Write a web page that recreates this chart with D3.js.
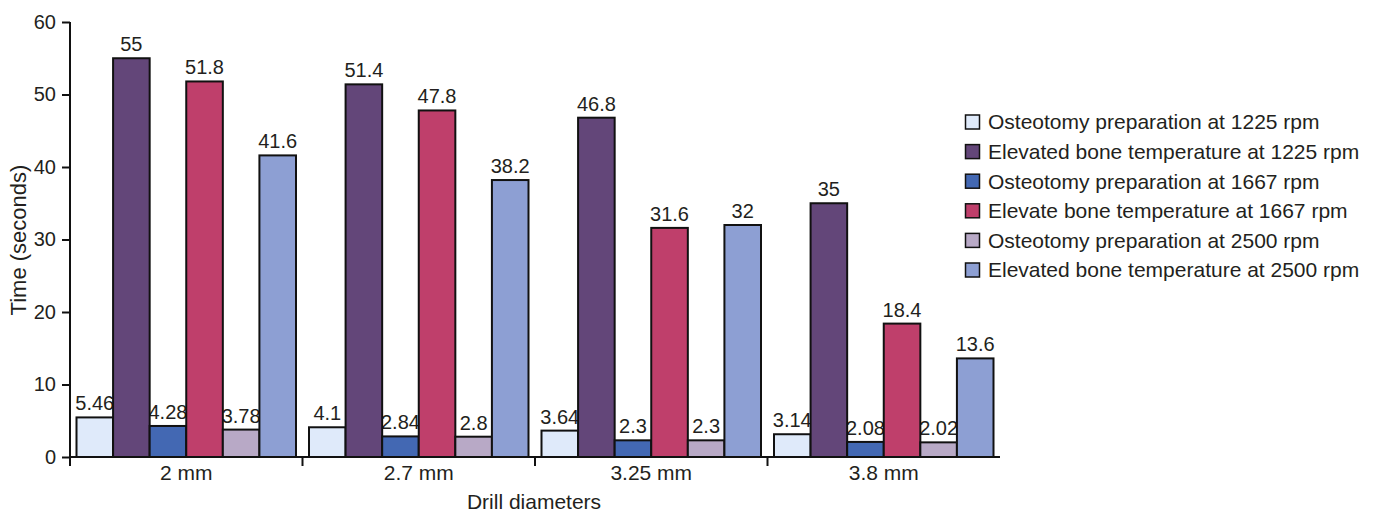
<!DOCTYPE html>
<html>
<head>
<meta charset="utf-8">
<script src="https://cdn.jsdelivr.net/npm/d3@7"></script>
<style>
  html, body { margin: 0; padding: 0; background: #fff; }
  svg text { font-family: "Liberation Sans", Arial, Helvetica, sans-serif; fill: #231f20; }
</style>
</head>
<body>
<svg id="chart" width="1378" height="513"></svg>
<script>
// Drill diameters (x categories)
const categories = ["2 mm", "2.7 mm", "3.25 mm", "3.8 mm"];

// Series names, in drawing order within each group
const seriesNames = [
  "Osteotomy preparation at 1225 rpm",
  "Elevated bone temperature at 1225 rpm",
  "Osteotomy preparation at 1667 rpm",
  "Elevate bone temperature at 1667 rpm",
  "Osteotomy preparation at 2500 rpm",
  "Elevated bone temperature at 2500 rpm"
];

// Values (seconds), one array per series, ordered by category
const osteo1225 = [5.46, 4.1, 3.64, 3.14];
const temp1225  = [55, 51.4, 46.8, 35];
const osteo1667 = [4.28, 2.84, 2.3, 2.08];
const temp1667  = [51.8, 47.8, 31.6, 18.4];
const osteo2500 = [3.78, 2.8, 2.3, 2.02];
const temp2500  = [41.6, 38.2, 32, 13.6];

const seriesValues = [osteo1225, temp1225, osteo1667, temp1667, osteo2500, temp2500];
const seriesColors = ["#dfeafa", "#634679", "#4368b3", "#bf3f6b", "#b8a9c6", "#8d9fd3"];

const yTicks = [0, 10, 20, 30, 40, 50, 60];

const NUM_SIZE = 20;   // numbers: ticks and value labels
const TXT_SIZE = 21;   // words: categories, titles, legend

const svg = d3.select("#chart");

const x0 = d3.scaleBand().domain(categories).range([70, 1000]).paddingInner(0).paddingOuter(0);
const x1 = d3.scaleBand().domain(d3.range(seriesNames.length))
  .range([6.5, x0.bandwidth() - 6.5]).padding(0);
const y = d3.scaleLinear().domain([0, 60]).range([457, 22]);

// Flatten into bar records
const bars = [];
categories.forEach((c, ci) => {
  seriesValues.forEach((vals, si) => {
    bars.push({ cat: c, s: si, v: vals[ci] });
  });
});

// Value labels (drawn first so neighbouring bars sit on top)
svg.append("g").selectAll("text").data(bars).join("text")
  .attr("x", d => x0(d.cat) + x1(d.s) + x1.bandwidth() / 2)
  .attr("y", d => y(d.v) - 7)
  .attr("text-anchor", "middle")
  .attr("font-size", NUM_SIZE)
  .text(d => String(d.v));

// Bars
svg.append("g").selectAll("rect").data(bars).join("rect")
  .attr("x", d => x0(d.cat) + x1(d.s))
  .attr("y", d => y(d.v))
  .attr("width", x1.bandwidth())
  .attr("height", d => y(0) - y(d.v))
  .attr("fill", d => seriesColors[d.s])
  .attr("stroke", "#111")
  .attr("stroke-width", 2);

// Y axis
const yAxis = svg.append("g").attr("transform", "translate(70,0)")
  .call(d3.axisLeft(y).tickValues(yTicks).tickSize(8).tickPadding(6).tickFormat(d3.format("d")));
yAxis.select(".domain").attr("stroke", "#111").attr("stroke-width", 2)
  .attr("d", `M0,${y(60)}V${y(0)}`);
yAxis.selectAll(".tick line").attr("stroke", "#111").attr("stroke-width", 2);
yAxis.selectAll(".tick text").attr("font-size", NUM_SIZE).attr("fill", "#231f20")
  .attr("font-family", "Liberation Sans, Arial, sans-serif");

// X axis: baseline with ticks at group boundaries
const xg = svg.append("g");
xg.append("line").attr("x1", 70).attr("x2", 1000).attr("y1", y(0)).attr("y2", y(0))
  .attr("stroke", "#111").attr("stroke-width", 2);
xg.selectAll("line.tick").data(categories).join("line").attr("class", "tick")
  .attr("x1", d => x0(d)).attr("x2", d => x0(d))
  .attr("y1", y(0)).attr("y2", y(0) + 9)
  .attr("stroke", "#111").attr("stroke-width", 2);
xg.selectAll("text").data(categories).join("text")
  .attr("x", d => x0(d) + x0.bandwidth() / 2)
  .attr("y", 480)
  .attr("text-anchor", "middle")
  .attr("font-size", TXT_SIZE)
  .text(d => d);

// Axis titles
svg.append("text")
  .attr("transform", "translate(26,240) rotate(-90)")
  .attr("text-anchor", "middle")
  .attr("font-size", 22)
  .text("Time (seconds)");
svg.append("text")
  .attr("x", 534).attr("y", 509)
  .attr("text-anchor", "middle")
  .attr("font-size", TXT_SIZE)
  .text("Drill diameters");

// Legend
const legend = svg.append("g").attr("transform", "translate(965,122)");
const item = legend.selectAll("g").data(seriesNames).join("g")
  .attr("transform", (d, i) => `translate(0,${i * 29.6})`);
item.append("rect")
  .attr("x", 0.5).attr("y", -7).attr("width", 14).attr("height", 14)
  .attr("fill", (d, i) => seriesColors[i])
  .attr("stroke", "#111").attr("stroke-width", 1.5);
item.append("text")
  .attr("x", 23).attr("y", 0).attr("dy", "0.35em")
  .attr("font-size", TXT_SIZE)
  .text(d => d);
</script>
</body>
</html>
